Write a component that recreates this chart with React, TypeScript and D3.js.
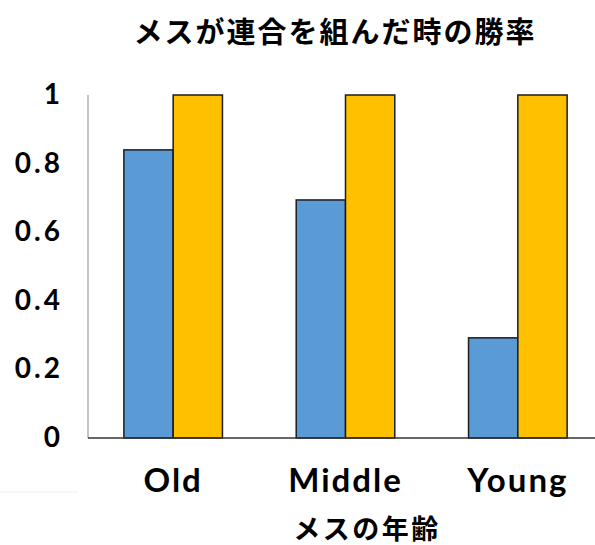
import React from "react";
import * as d3 from "d3";

const categories = ["Old", "Middle", "Young"];
const seriesNames = ["coalition", "reference"];
const coalitionValues = [0.84, 0.694, 0.292];
const referenceValues = [1, 1, 1];
const yTicks = [0, 0.2, 0.4, 0.6, 0.8, 1];
const yTickLabels = ["0", "0.2", "0.4", "0.6", "0.8", "1"];
const title = "メスが連合を組んだ時の勝率";
const xTitle = "メスの年齢";

const W = 595;
const H = 545;
const colors = ["#5B9BD5", "#FFC000"];

export default function App() {
  const x = d3.scaleBand<string>().domain(categories).range([87, 604]).paddingInner(0.428).paddingOuter(0.214);
  const xSub = d3.scaleBand<string>().domain(seriesNames).range([0, x.bandwidth()]).padding(0);
  const y = d3.scaleLinear().domain([0, 1]).range([438, 95]);
  const series = [coalitionValues, referenceValues];

  const cjk = "'Noto Sans CJK JP', sans-serif";
  const latin = "Lato, 'Noto Sans', sans-serif";

  return (
    <svg width={W} height={H} style={{ position: "absolute", left: 0, top: 0, background: "#fff" }}>
      <text x={335} y={30} textAnchor="middle" dominantBaseline="central" fontFamily={cjk} fontWeight={700} fontSize={29} letterSpacing={2} fill="#000">
        {title}
      </text>

      {/* y axis line */}
      <line x1={88} x2={88} y1={y(1)} y2={y(0)} stroke="#888" strokeWidth={1} />

      {yTicks.map((t, i) => (
        <text key={t} x={63} y={y(t) - 2} textAnchor="end" dominantBaseline="central" fontFamily={latin} fontWeight={700} fontSize={28} letterSpacing={3} fill="#000">
          {yTickLabels[i]}
        </text>
      ))}

      {categories.map((c, ci) => (
        <g key={c} transform={`translate(${x(c)},0)`}>
          {series.map((vals, si) => (
            <rect
              key={si}
              x={xSub(seriesNames[si])}
              y={y(vals[ci])}
              width={xSub.bandwidth()}
              height={y(0) - y(vals[ci])}
              fill={colors[si]}
              stroke="#1b1b22"
              strokeWidth={1.5}
            />
          ))}
        </g>
      ))}

      {/* baseline */}
      <line x1={88} x2={W} y1={y(0)} y2={y(0)} stroke="#333" strokeWidth={1.5} />

      {categories.map((c) => (
        <text key={c} x={(x(c) as number) + x.bandwidth() / 2} y={492} textAnchor="middle" fontFamily={latin} fontWeight={700} fontSize={33} letterSpacing={2} fill="#000">
          {c}
        </text>
      ))}

      <line x1={0} x2={78} y1={492} y2={492} stroke="#eee" strokeWidth={1} />

      <text x={367} y={527} textAnchor="middle" dominantBaseline="central" fontFamily={cjk} fontWeight={700} fontSize={27} letterSpacing={2.5} fill="#000">
        {xTitle}
      </text>
    </svg>
  );
}
